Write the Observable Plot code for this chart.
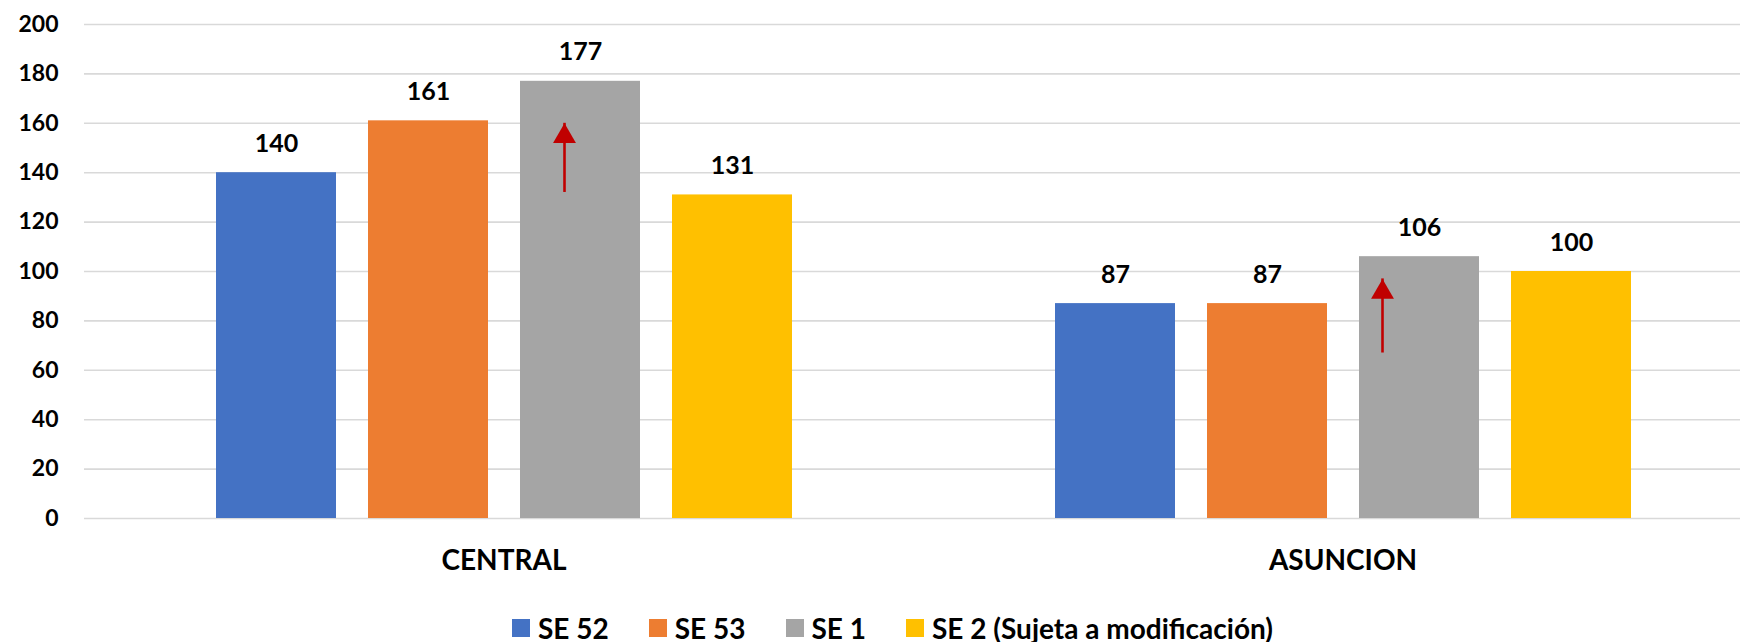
<!DOCTYPE html>
<html>
<head>
<meta charset="utf-8">
<script src="https://cdn.jsdelivr.net/npm/d3@7"></script>
<script src="https://cdn.jsdelivr.net/npm/@observablehq/plot@0.6"></script>
<style>
  html, body { margin: 0; padding: 0; background: #fff; overflow: hidden; }
  #chart svg { display: block; }
  #legend {
    height: 42px; margin-top: 7px; display: flex; align-items: center;
    font-family: Lato, "Open Sans", sans-serif; font-weight: 700; font-size: 28px; color: #000;
    padding-left: 512px; box-sizing: border-box;
  }
  #legend .item { display: flex; align-items: center; margin-right: 40px; white-space: nowrap; }
  #legend .sw { width: 18px; height: 18px; margin-right: 8px; }
</style>
</head>
<body>
<div id="chart"></div>
<div id="legend"></div>
<script>
const regions = ["CENTRAL", "ASUNCION"];
const series = ["SE 52", "SE 53", "SE 1", "SE 2 (Sujeta a modificación)"];
const centralValues = [140, 161, 177, 131];
const asuncionValues = [87, 87, 106, 100];
const seriesColors = ["#4472C4", "#ED7D31", "#A5A5A5", "#FFC000"];
const yTicks = [0, 20, 40, 60, 80, 100, 120, 140, 160, 180, 200];
// trend arrows drawn on the "SE 1" bars
const arrowRegions = ["CENTRAL", "ASUNCION"];
const arrowFrom = [132, 67];
const arrowTo = [160, 97];

const regionValues = [centralValues, asuncionValues];
const data = regions.flatMap((r, i) =>
  series.map((s, j) => ({region: r, series: s, value: regionValues[i][j]})));
const arrows = arrowRegions.map((r, i) => ({region: r, series: "SE 1", from: arrowFrom[i], to: arrowTo[i]}));

// styling of the arrows (horizontal offsets inside the bar)
const arrowDx = [-16, -37];
const arrowColor = "#C00000";

const arrowMarks = arrows.flatMap((a, i) => [
  Plot.ruleX([a], {fx: "region", x: "series", y1: "from", y2: "to", stroke: arrowColor, strokeWidth: 2.6, dx: arrowDx[i]}),
  Plot.dot([a], {fx: "region", x: "series", y: "to", symbol: "triangle", r: 8.5, fill: arrowColor, stroke: "none", dx: arrowDx[i], dy: 13.2})
]);

const chart = Plot.plot({
  width: 1762,
  height: 600,
  marginLeft: 83,
  marginRight: 0,
  marginTop: 24,
  marginBottom: 82,
  style: {fontFamily: "Lato, 'Open Sans', sans-serif", fontWeight: 700, color: "#000", background: "#fff", maxWidth: "none"},
  fx: {domain: regions, padding: 0, label: null, axis: null},
  x: {domain: series, paddingInner: 0.2131, paddingOuter: 0.859, axis: null},
  y: {domain: [0, 200], axis: null},
  color: {domain: series, range: seriesColors},
  marks: [
    Plot.gridY(yTicks, {stroke: "#d9d9d9", strokeOpacity: 1, strokeWidth: 1.6}),
    Plot.axisY(yTicks, {tickSize: 0, tickPadding: 26, fontSize: 23, label: null, fill: "#000"}),
    Plot.axisFx({anchor: "bottom", tickSize: 0, tickPadding: 32, fontSize: 28, label: null, fill: "#000"}),
    Plot.barY(data, {fx: "region", x: "series", y: "value", fill: "series"}),
    Plot.text(data, {fx: "region", x: "series", y: "value", text: d => String(d.value), dy: -21, lineAnchor: "bottom", fontSize: 25, fill: "#000"}),
    ...arrowMarks
  ]
});
chart.style.maxWidth = "none";
document.getElementById("chart").appendChild(chart);

const legend = document.getElementById("legend");
series.forEach((s, i) => {
  const item = document.createElement("div");
  item.className = "item";
  const sw = document.createElement("span");
  sw.className = "sw";
  sw.style.background = seriesColors[i];
  const t = document.createElement("span");
  t.textContent = s;
  item.appendChild(sw);
  item.appendChild(t);
  legend.appendChild(item);
});
</script>
</body>
</html>
